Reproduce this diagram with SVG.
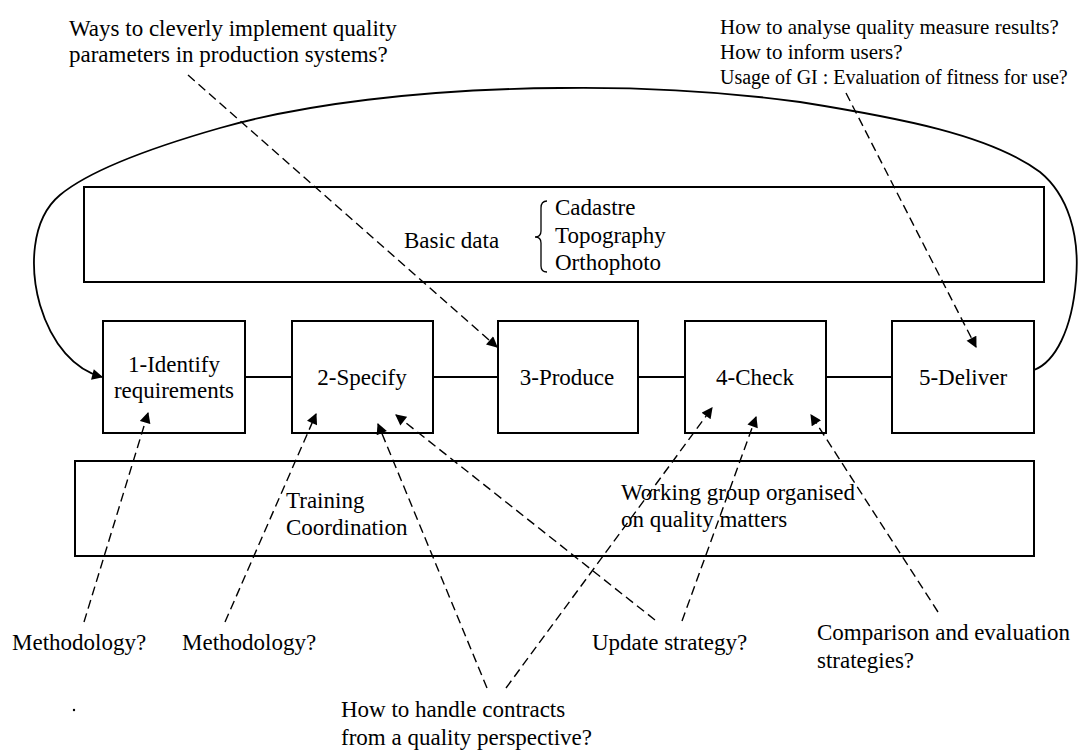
<svg xmlns="http://www.w3.org/2000/svg" width="1078" height="752" viewBox="0 0 1078 752">
<style>
text{font-family:"Liberation Serif","Times New Roman",serif;font-size:23px;fill:#000}
.sm{font-size:21px}
.xs{font-size:20px}
.box{fill:none;stroke:#000;stroke-width:2}
.ln{fill:none;stroke:#000;stroke-width:2}
.dash{fill:none;stroke:#000;stroke-width:1.4;stroke-dasharray:9 5}
.c{text-anchor:middle}
</style>
<defs>
<marker id="ah" viewBox="0 0 10 10" refX="9" refY="5" markerWidth="12" markerHeight="11" markerUnits="userSpaceOnUse" orient="auto">
<path d="M0,0 L10,5 L0,10 z" fill="#000"/>
</marker>
</defs>
<rect width="1078" height="752" fill="#fff"/>
<g id="basic-data">
<rect class="box" x="84" y="187" width="960" height="95"/>
<text x="404" y="248">Basic data</text>
<path fill="none" stroke="#000" stroke-width="1.3" d="M547,201 Q541,201 541,208 L541,231 Q541,237 535,237 Q541,237 541,243 L541,266 Q541,272 547,272"/>
<text x="555" y="215">Cadastre</text>
<text x="555" y="243">Topography</text>
<text x="555" y="270">Orthophoto</text>
</g>
<g id="support">
<rect class="box" x="75" y="461" width="959" height="95"/>
<text x="286" y="508">Training</text>
<text x="286" y="535">Coordination</text>
<text x="621" y="500">Working group organised</text>
<text x="621" y="527">on quality matters</text>
</g>
<g id="connectors">
<line class="ln" x1="245" y1="377" x2="292" y2="377"/>
<line class="ln" x1="433" y1="377" x2="498" y2="377"/>
<line class="ln" x1="638" y1="377" x2="685" y2="377"/>
<line class="ln" x1="826" y1="377" x2="892" y2="377"/>
<path fill="none" stroke="#000" stroke-width="1.8" marker-end="url(#ah)" d="M1034,370 C1055,362 1072,330 1076,280 C1080,235 1068,195 1040,172 C990,135 900,118 800,102 C720,91 640,87 560,88 C420,89 300,105 220,128 C150,148 90,170 60,195 C30,220 30,270 40,305 C52,345 75,370 102,377"/>
<line class="dash" x1="188" y1="75" x2="497" y2="347" marker-end="url(#ah)"/>
<line class="dash" x1="846" y1="93" x2="976" y2="347" marker-end="url(#ah)"/>
<line class="dash" x1="84" y1="622" x2="148" y2="413" marker-end="url(#ah)"/>
<line class="dash" x1="225" y1="622" x2="316" y2="414" marker-end="url(#ah)"/>
<line class="dash" x1="487" y1="688" x2="378" y2="424" marker-end="url(#ah)"/>
<line class="dash" x1="506" y1="688" x2="712" y2="408" marker-end="url(#ah)"/>
<line class="dash" x1="655" y1="620" x2="396" y2="415" marker-end="url(#ah)"/>
<line class="dash" x1="682" y1="621" x2="756" y2="417" marker-end="url(#ah)"/>
<line class="dash" x1="938" y1="612" x2="811" y2="415" marker-end="url(#ah)"/>
</g>
<g id="step1">
<rect class="box" x="103" y="321" width="142" height="112"/>
<text class="c" x="174" y="372">1-Identify</text>
<text class="c" x="174" y="398">requirements</text>
</g>
<g id="step2">
<rect class="box" x="292" y="321" width="141" height="112"/>
<text class="c" x="362" y="385">2-Specify</text>
</g>
<g id="step3">
<rect class="box" x="498" y="321" width="140" height="112"/>
<text class="c" x="567" y="385">3-Produce</text>
</g>
<g id="step4">
<rect class="box" x="685" y="321" width="141" height="112"/>
<text class="c" x="755" y="385">4-Check</text>
</g>
<g id="step5">
<rect class="box" x="892" y="321" width="142" height="112"/>
<text class="c" x="963" y="385">5-Deliver</text>
</g>
<g id="q-implement">
<text x="69" y="36">Ways to cleverly implement quality</text>
<text x="69" y="62">parameters in production systems?</text>
</g>
<g id="q-deliver">
<text class="sm" x="720" y="34">How to analyse quality measure results?</text>
<text class="sm" x="720" y="59">How to inform users?</text>
<text class="xs" x="720" y="84">Usage of GI : Evaluation of fitness for use?</text>
</g>
<g id="q-method1"><text x="12" y="650">Methodology?</text></g>
<g id="q-method2"><text x="182" y="650">Methodology?</text></g>
<g id="q-update"><text x="592" y="650">Update strategy?</text></g>
<g id="q-compare">
<text x="817" y="640">Comparison and evaluation</text>
<text x="817" y="668">strategies?</text>
</g>
<g id="q-contracts">
<text x="341" y="717">How to handle contracts</text>
<text x="341" y="745">from a quality perspective?</text>
</g>
<circle cx="74" cy="710" r="1.2" fill="#000"/>
</svg>
